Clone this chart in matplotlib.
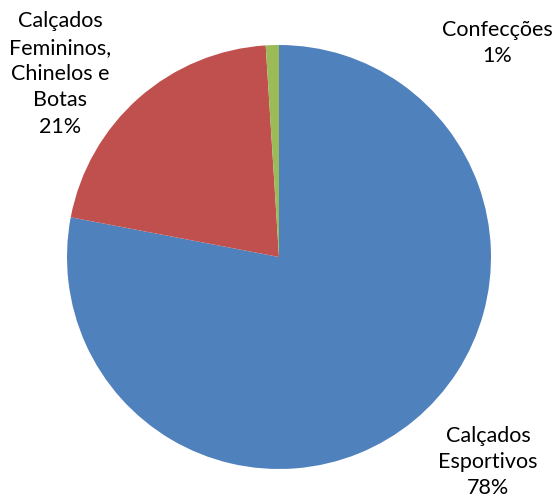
import matplotlib
matplotlib.use("Agg")
import matplotlib.pyplot as plt

categories = ["Calçados\nEsportivos", "Calçados\nFemininos,\nChinelos e\nBotas", "Confecções"]
shares = [78, 21, 1]
colors = ["#4F81BD", "#C0504D", "#9BBB59"]

# label centres in figure fraction
label_pos = [(488 / 558, 1 - 462 / 500), (60 / 558, 1 - 74 / 500), (497 / 558, 1 - 43 / 500)]

plt.rcParams["font.family"] = ["Lato", "DejaVu Sans"]

fig = plt.figure(figsize=(5.58, 5.0), dpi=100, facecolor="white")
ax = fig.add_axes([(279 - 212) / 558, (500 - 257 - 212) / 500, 424 / 558, 424 / 500])
ax.pie(shares, colors=colors, startangle=90, counterclock=False,
       wedgeprops=dict(linewidth=0))
ax.set_xlim(-1, 1)
ax.set_ylim(-1, 1)

for cat, val, (x, y) in zip(categories, shares, label_pos):
    fig.text(x, y, "%s\n%d%%" % (cat, val), ha="center", va="center",
             fontsize=15.5, linespacing=1.4, color="black")

fig.savefig("out.png", dpi=100, facecolor="white")
